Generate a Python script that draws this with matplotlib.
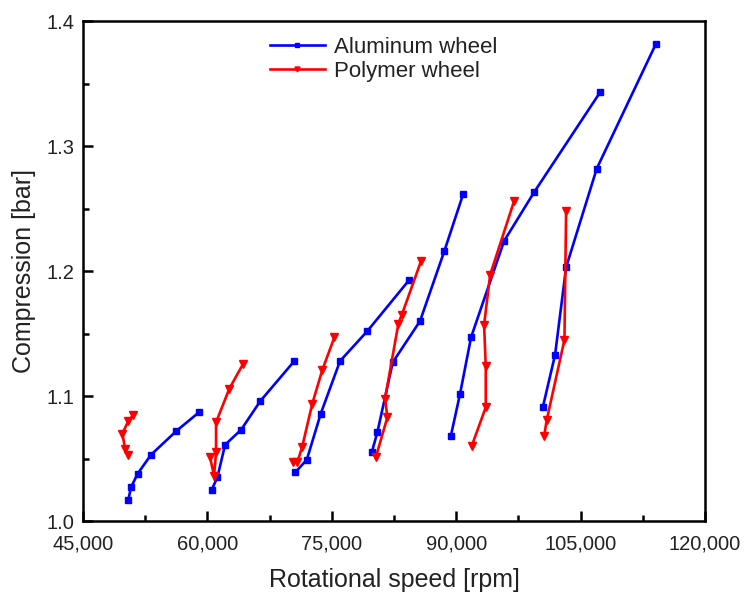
import matplotlib.pyplot as plt
from matplotlib.ticker import MultipleLocator, FuncFormatter

plt.rcParams['font.family'] = ['Liberation Sans', 'DejaVu Sans']

# --- data: one list per speed line ---
# aluminum wheel (blue squares)
alu_speed = [
    [50460, 50790, 51600, 53200, 56250, 58990],
    [60520, 61200, 62130, 64060, 66380, 70480],
    [70600, 71980, 73670, 75990, 79290, 84350],
    [79820, 80490, 82350, 85640, 88570, 90860],
    [89350, 90470, 91790, 95770, 99390, 107350],
    [100440, 101920, 103250, 106950, 114100],
]
alu_comp = [
    [1.017, 1.027, 1.038, 1.053, 1.072, 1.087],
    [1.025, 1.035, 1.061, 1.073, 1.096, 1.128],
    [1.039, 1.049, 1.086, 1.128, 1.152, 1.193],
    [1.055, 1.071, 1.127, 1.160, 1.216, 1.262],
    [1.068, 1.102, 1.147, 1.224, 1.263, 1.343],
    [1.091, 1.133, 1.203, 1.282, 1.382],
]

# polymer wheel (red triangles)
poly_speed = [
    [50390, 50070, 49740, 50460, 51070],
    [60320, 60800, 61040, 61040, 62650, 64330],
    [70360, 70840, 71410, 72650, 73860, 75310],
    [80300, 81700, 81420, 83030, 83440, 85760],
    [91870, 93560, 93560, 93360, 94090, 96980],
    [100600, 100920, 103050, 103250],
]
poly_comp = [
    [1.053, 1.058, 1.070, 1.080, 1.085],
    [1.051, 1.036, 1.055, 1.079, 1.106, 1.126],
    [1.047, 1.047, 1.059, 1.094, 1.121, 1.147],
    [1.051, 1.083, 1.098, 1.158, 1.165, 1.208],
    [1.060, 1.091, 1.124, 1.157, 1.197, 1.256],
    [1.068, 1.081, 1.145, 1.248],
]

fig = plt.figure(figsize=(7.44, 5.92), dpi=100)
ax = fig.add_axes([0.1116, 0.1199, 0.8360, 0.8446])

for i, (xs, ys) in enumerate(zip(alu_speed, alu_comp)):
    ax.plot(xs, ys, color='#0000ff', lw=1.9, marker='s', ms=5,
            label='Aluminum wheel' if i == 0 else None)
for i, (xs, ys) in enumerate(zip(poly_speed, poly_comp)):
    ax.plot(xs, ys, color='#ff0000', lw=1.9, marker='v', ms=6,
            label='Polymer wheel' if i == 0 else None)

ax.set_xlim(45000, 120000)
ax.set_ylim(1.0, 1.4)
ax.xaxis.set_major_locator(MultipleLocator(15000))
ax.xaxis.set_minor_locator(MultipleLocator(7500))
ax.yaxis.set_major_locator(MultipleLocator(0.1))
ax.yaxis.set_minor_locator(MultipleLocator(0.05))
ax.xaxis.set_major_formatter(FuncFormatter(lambda v, p: f'{int(v):,}'))
ax.yaxis.set_major_formatter(FuncFormatter(lambda v, p: f'{v:.1f}'))

txt = '#222222'
for s in ax.spines.values():
    s.set_linewidth(1.8)
ax.tick_params(which='both', direction='in', top=False, right=False,
               labelsize=14.5, colors='black', labelcolor=txt, width=1.8)
ax.tick_params(which='major', length=7)
ax.tick_params(which='minor', length=4)
ax.tick_params(axis='x', pad=10)
ax.tick_params(axis='y', pad=6)

ax.set_xlabel('Rotational speed [rpm]', fontsize=18, labelpad=10, color=txt)
ax.set_ylabel('Compression [bar]', fontsize=18, labelpad=8, color=txt)

ax.legend(loc='upper left', bbox_to_anchor=(0.275, 1.0), frameon=False,
          fontsize=16, handlelength=2.5, markerscale=0.6,
          handletextpad=0.4, labelspacing=0.15, borderaxespad=0.3,
          labelcolor=txt)

fig.savefig('out.png', dpi=100)
